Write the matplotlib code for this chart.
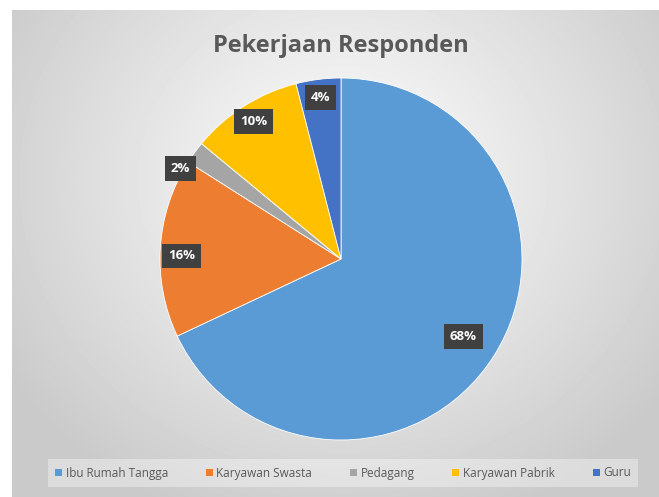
import matplotlib
matplotlib.use('Agg')
import matplotlib.pyplot as plt
from matplotlib.patches import Patch
import numpy as np

# data
categories = ['Ibu Rumah Tangga', 'Karyawan Swasta', 'Pedagang', 'Karyawan Pabrik', 'Guru']
shares = [68, 16, 2, 10, 4]
colors = ['#5B9BD5', '#ED7D31', '#A5A5A5', '#FFC000', '#4472C4']
# label placement (radius fraction, angle nudge in degrees) - Excel "best fit" look
label_radius = [0.80, 0.88, 1.02, 0.90, 0.90]
label_nudge = [0, 2.5, 6.5, 0, 0]

W, H = 659, 497
fig = plt.figure(figsize=(W / 100, H / 100), dpi=100)
fig.patch.set_facecolor('white')

# radial gradient backdrop of the chart area
bg = fig.add_axes([12 / W, 0, (W - 12) / W, (H - 10) / H])
yy, xx = np.mgrid[0:H - 10, 0:W - 12]
d = np.hypot(xx - 330, (yy - 170) * 1.1)
val = 0.99 - 0.20 * np.clip(d / 400, 0, 1) ** 1.1
bg.imshow(val, cmap='gray', vmin=0, vmax=1, aspect='auto', interpolation='bilinear')
bg.axis('off')

# pie
cx, cy, r = 341, 259, 181
ax = fig.add_axes([(cx - r) / W, (H - cy - r) / H, 2 * r / W, 2 * r / H])
ax.set_facecolor('none')
wedges, _ = ax.pie(shares, colors=colors, startangle=90, counterclock=False,
                   wedgeprops=dict(linewidth=0.6, edgecolor='white'))
ax.set_xlim(-1, 1)
ax.set_ylim(-1, 1)
ax.set_aspect('equal')

for w, v, rr, nd in zip(wedges, shares, label_radius, label_nudge):
    ang = np.deg2rad((w.theta1 + w.theta2) / 2 + nd)
    ax.text(rr * np.cos(ang), rr * np.sin(ang), f'{v}%', ha='center', va='center',
            color='white', fontsize=9.5, fontweight='bold', family='Open Sans',
            bbox=dict(boxstyle='square,pad=0.45', fc='#404040', ec='none'))

fig.text(cx / W, 1 - 46 / H, 'Pekerjaan Responden', ha='center', va='center',
         fontsize=17, fontweight='bold', color='#595959', family='Open Sans')

handles = [Patch(facecolor=c, edgecolor='none') for c in colors]
leg = fig.legend(handles, categories, loc='center', ncol=5,
                 bbox_to_anchor=(343 / W, 1 - 473 / H), frameon=True,
                 prop=dict(family='Open Sans', size=8.5), labelcolor='#595959',
                 handlelength=0.6, handleheight=0.6, handletextpad=0.3,
                 columnspacing=3.2, borderpad=0.6, fancybox=False)
leg.get_frame().set_facecolor('white')
leg.get_frame().set_alpha(0.35)
leg.get_frame().set_edgecolor('none')

fig.savefig('out.png', dpi=100)
